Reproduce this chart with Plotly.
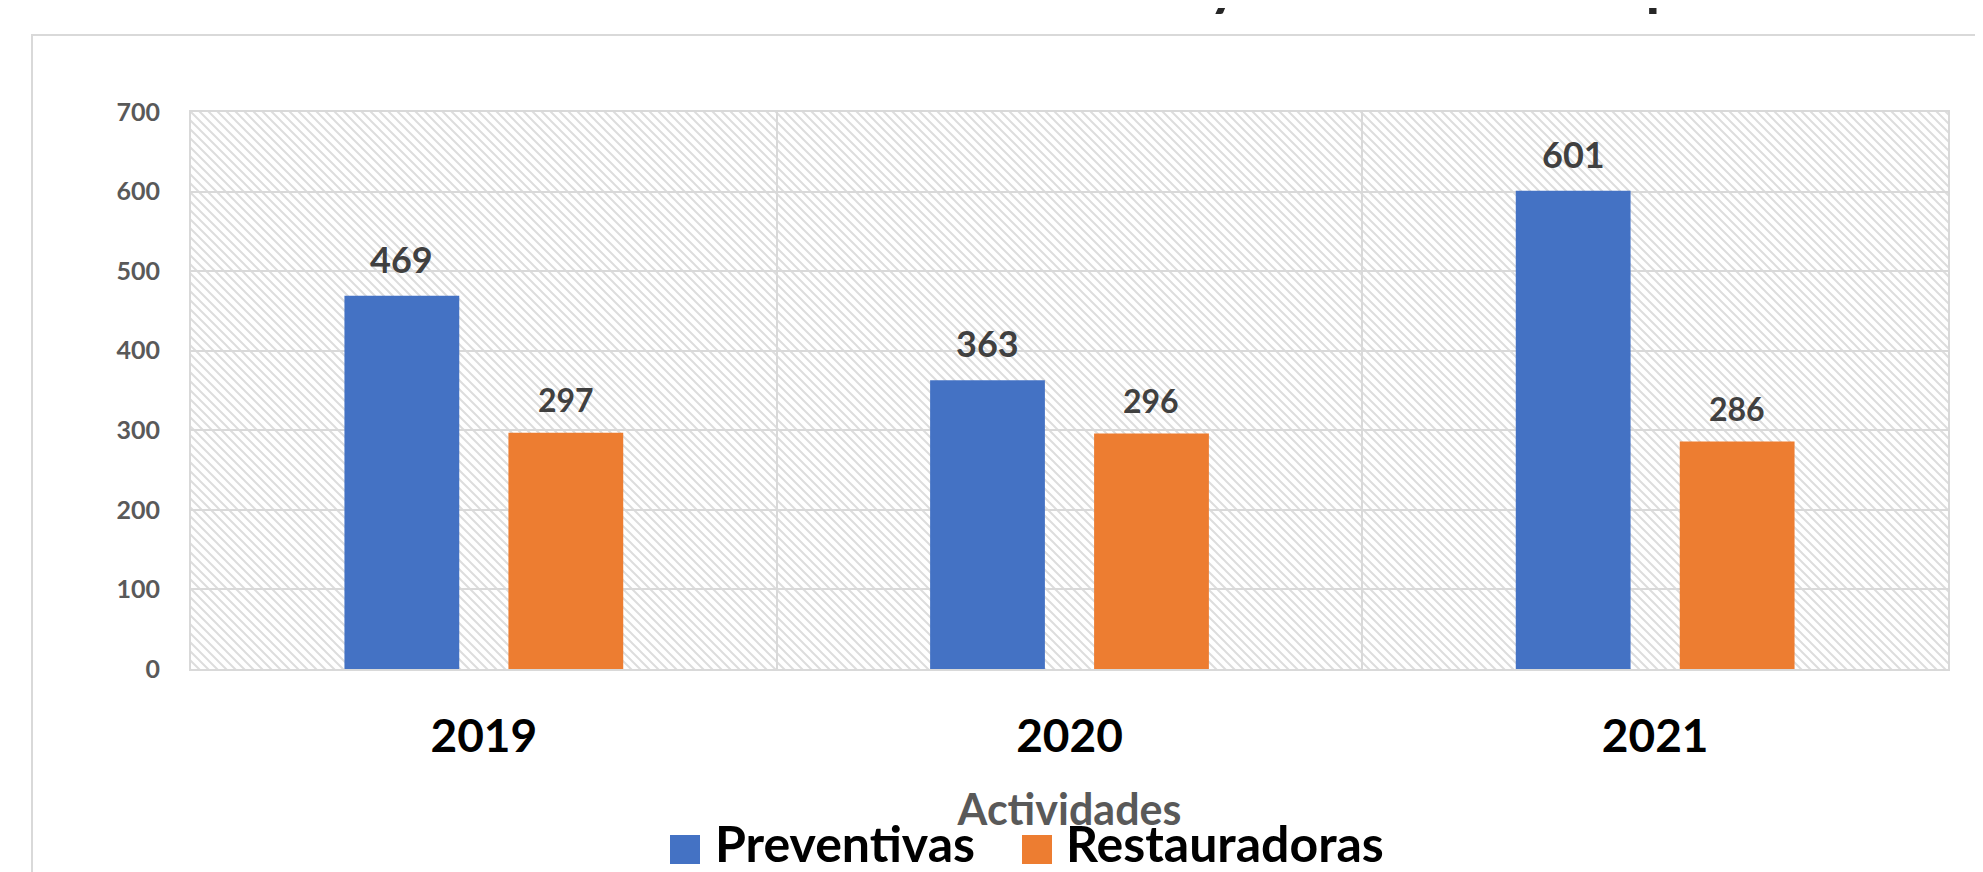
import base64
import plotly.graph_objects as go

# ---------------- data ----------------
years = ["2019", "2020", "2021"]
preventivas = [469, 363, 601]
restauradoras = [297, 296, 286]
series_names = ["Preventivas", "Restauradoras"]
y_ticks = [0, 100, 200, 300, 400, 500, 600, 700]
title_text = "Actividades Preventivas y Restauradoras por año"
x_title = "Actividades"

# ---------------- style ----------------
W, H = 1983, 872
OFF = 8  # page body margin of the html page
# plot area in page pixels: x 191..1948, y 112..669
PL, PR, PT, PB = 191, 1948, 112, 669
ML, MT = PL - OFF, PT - OFF
MR, MB = W - (PR - OFF), H - (PB - OFF)
PW, PH = PR - PL, PB - PT
BLUE, ORANGE = "#4472C4", "#ED7D31"
GRID = "#d9d9d9"
FONT = "Lato"
BARGAP, GROUPGAP = 0.44, 0.30


def px_x(px):
    return (px - PL) / PW


def px_y(py):
    return (PB - py) / PH


# hatch background for the plot area
svg = (
    f"<svg xmlns='http://www.w3.org/2000/svg' width='{PW}' height='{PH}'>"
    "<defs><pattern id='h' width='9' height='9' patternUnits='userSpaceOnUse'>"
    "<path d='M-2,-2 L11,11 M-2,7 L2,11 M7,-2 L11,2' stroke='#dddddd' stroke-width='2'/>"
    "</pattern></defs><rect width='100%' height='100%' fill='url(#h)'/></svg>"
)
svg_uri = "data:image/svg+xml;base64," + base64.b64encode(svg.encode()).decode()

fig = go.Figure()
fig.add_trace(go.Bar(x=years, y=preventivas, name=series_names[0],
                     marker=dict(color=BLUE, line=dict(width=0)), showlegend=False))
fig.add_trace(go.Bar(x=years, y=restauradoras, name=series_names[1],
                     marker=dict(color=ORANGE, line=dict(width=0)), showlegend=False))

cat_w = PW / len(years)
shift = cat_w * (1 - BARGAP) / 4

annotations = []
# category axis: annotation x given as the category index
for i, v in enumerate(preventivas):
    annotations.append(dict(x=i, y=v, xref="x", yref="y", text=str(v), showarrow=False,
                            xshift=-shift, yshift=37, yanchor="middle",
                            font=dict(family=FONT, size=36, color="#404040", weight="bold")))
for i, v in enumerate(restauradoras):
    annotations.append(dict(x=i, y=v, xref="x", yref="y", text=str(v), showarrow=False,
                            xshift=shift, yshift=33, yanchor="middle",
                            font=dict(family=FONT, size=32, color="#404040", weight="bold")))

# title (cropped at top of the picture)
annotations.append(dict(x=px_x(559), y=px_y(-19), xref="paper", yref="paper", text=title_text,
                        showarrow=False, xanchor="left", yanchor="middle",
                        font=dict(family=FONT, size=59.5, color="#262626", weight="bold")))

# legend (manual, large swatches)
leg_items = [(series_names[0], BLUE, 670, 719), (series_names[1], ORANGE, 1022, 1070)]
shapes = []
for name, col, sx, tx in leg_items:
    shapes.append(dict(type="rect", xref="paper", yref="paper",
                       x0=px_x(sx), x1=px_x(sx + 30), y0=px_y(864), y1=px_y(835),
                       fillcolor=col, line=dict(width=0)))
    annotations.append(dict(x=px_x(tx - 6), y=px_y(843), xref="paper", yref="paper",
                            text=name, showarrow=False, xanchor="left", yanchor="middle",
                            font=dict(family=FONT, size=50, color="#000000", weight="bold")))

# chart-area frame (left and top edges visible)
shapes.append(dict(type="path", xref="paper", yref="paper",
                   path=f"M {px_x(32)},{px_y(H + 20)} L {px_x(32)},{px_y(35)} L {px_x(W + 20)},{px_y(35)}",
                   line=dict(color=GRID, width=2)))

fig.update_layout(
    width=W, height=H,
    margin=dict(l=ML, r=MR, t=MT, b=MB, autoexpand=False),
    paper_bgcolor="white", plot_bgcolor="white",
    barmode="group", bargap=BARGAP, bargroupgap=GROUPGAP,
    showlegend=False,
    annotations=annotations,
    shapes=shapes,
    images=[dict(source=svg_uri, xref="paper", yref="paper", x=0, y=1, sizex=1, sizey=1,
                 xanchor="left", yanchor="top", sizing="stretch", layer="below")],
)
fig.update_xaxes(
    type="category", tickson="boundaries", showgrid=True, gridcolor=GRID, gridwidth=2,
    showline=True, linecolor=GRID, linewidth=2, mirror=True, ticks="", tickangle=0,
    automargin=False,
    tickfont=dict(family=FONT, size=46, color="#000000", weight="bold"),
    ticklabelstandoff=26,
    title=dict(text=x_title, standoff=34,
               font=dict(family=FONT, size=43, color="#595959", weight="bold")),
)
fig.update_yaxes(
    range=[0, 700], tickvals=y_ticks, showgrid=True, gridcolor=GRID, gridwidth=2,
    showline=True, linecolor=GRID, linewidth=2, mirror=True, zeroline=False, ticks="",
    automargin=False,
    tickfont=dict(family=FONT, size=25, color="#595959", weight="bold"),
    ticklabelstandoff=24,
)

fig.write_html("out.html")
